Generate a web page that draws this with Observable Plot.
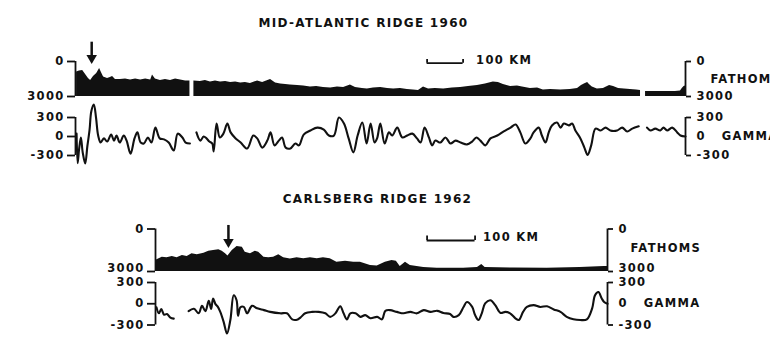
<!DOCTYPE html>
<html><head><meta charset="utf-8">
<script src="https://cdn.jsdelivr.net/npm/d3@7"></script>
<script src="https://cdn.jsdelivr.net/npm/@observablehq/plot@0.6"></script>
<style>
html,body{margin:0;padding:0;background:#fff;overflow:hidden;}
#chart{position:relative;width:770px;height:338px;}
</style></head><body><div id="chart"></div>
<script>
// ---------- DATA ----------
const atlanticTitle = "MID-ATLANTIC RIDGE 1960";
const carlsbergTitle = "CARLSBERG RIDGE 1962";
const depthUnit = "FATHOMS";
const magUnit = "GAMMA";
const scaleLabel = "100 KM";
const scaleKm = 100;
const fathomTicks = [0, 3000];
const gammaTicks = [300, 0, -300];

// distance along profile (km), depth (fathoms); null = gap in record
const atlanticDepth = [
[0,900],[8,815],[17,770],[25,1115],[33,1455],[39,1630],[47,1285],[56,1030],[64,600],[69,940],[75,1330],[86,1455],[94,1370],[100,1285],[108,1540],[122,1540],[136,1500],[150,1585],[164,1500],[178,1585],[192,1500],[206,1585],[211,1155],[219,1500],[233,1630],[247,1540],[261,1630],[275,1500],[289,1585],[303,1670],[315,1670],[321,null],
[326,1670],[344,1715],[358,1630],[372,1755],[386,1670],[400,1755],[414,1715],[428,1800],[442,1755],[456,1840],[469,1800],[483,1885],[503,1670],[517,1800],[539,1540],[553,1840],[567,1930],[581,1970],[594,2015],[614,2055],[631,2100],[650,2185],[667,2140],[686,2230],[706,2270],[725,2185],[742,2230],[761,2015],[775,2230],[794,2315],[808,2355],[825,2270],[845,2230],[864,2315],[881,2355],[900,2315],[919,2400],[936,2440],[950,2485],[964,2185],[978,2355],[997,2315],[1020,2355],[1044,2270],[1067,2230],[1089,2140],[1114,2055],[1136,1930],[1158,1755],[1172,1800],[1186,1970],[1206,2140],[1225,2100],[1239,2185],[1261,2315],[1281,2270],[1297,2440],[1317,2400],[1345,2440],[1372,2400],[1392,2315],[1403,2055],[1411,1930],[1420,1800],[1425,1970],[1433,2185],[1447,2355],[1464,2315],[1481,2055],[1492,2140],[1506,2315],[1522,2355],[1539,2400],[1556,2440],[1567,2485],[1574,null],
[1581,2570],[1608,2570],[1636,2570],[1664,2570],[1678,2530],[1683,2315],[1688,2140],[1692,2100]
];

// distance (km), total-field anomaly (gamma)
const atlanticMagnetic = [
[0,45],[3,-420],[7,-200],[12,-15],[17,-250],[24,-425],[30,-150],[36,100],[41,400],[48,505],[54,300],[60,15],[67,-95],[76,-30],[85,-80],[96,30],[104,-65],[111,15],[120,-95],[131,15],[139,-65],[150,-270],[161,-30],[169,65],[178,-95],[187,-110],[198,-15],[208,-95],[219,140],[231,-30],[243,-45],[256,-95],[270,-220],[281,45],[294,-15],[303,-95],[315,-110],[322,null],
[333,65],[344,-65],[353,0],[361,-30],[369,-80],[377,-110],[381,-235],[389,205],[398,-15],[408,45],[419,205],[428,65],[442,-30],[456,-95],[474,-190],[491,15],[502,-30],[516,-175],[530,-65],[539,65],[550,-140],[562,-65],[571,-15],[581,-175],[594,-190],[608,-110],[618,-140],[631,30],[650,95],[669,140],[687,110],[701,15],[715,15],[729,300],[743,205],[756,-30],[769,-250],[781,15],[794,220],[806,-110],[817,205],[828,-95],[835,-30],[844,205],[856,-110],[868,65],[877,15],[891,140],[905,-15],[919,15],[933,45],[946,-30],[956,-95],[967,140],[979,-15],[988,-140],[997,-65],[1011,-95],[1025,-15],[1039,-110],[1053,-65],[1067,-95],[1085,-125],[1099,-80],[1111,-15],[1122,-65],[1136,-140],[1150,-30],[1169,15],[1187,80],[1206,140],[1220,190],[1233,65],[1247,-110],[1261,-30],[1270,65],[1284,140],[1293,15],[1303,-95],[1312,65],[1321,175],[1335,220],[1345,140],[1354,205],[1368,175],[1377,205],[1386,95],[1400,-30],[1411,-175],[1420,-290],[1430,-140],[1442,125],[1456,95],[1470,140],[1483,95],[1502,95],[1516,140],[1530,80],[1544,125],[1562,160],[1572,null],
[1585,140],[1595,95],[1608,125],[1622,95],[1631,140],[1641,95],[1655,140],[1669,65],[1678,15],[1692,0]
];

const carlsbergDepth = [
[0,2190],[12,1990],[22,2035],[33,1940],[43,2035],[54,1870],[64,1940],[74,1750],[85,1820],[99,1710],[109,1570],[119,1520],[130,1470],[137,1570],[144,1750],[149,1905],[158,1520],[168,1235],[179,1285],[185,1640],[196,1750],[206,1570],[213,1640],[224,1990],[234,2035],[244,1990],[255,1820],[265,2035],[279,2120],[293,2035],[307,2105],[321,2035],[335,2105],[348,2035],[362,2105],[376,2345],[394,2275],[411,2345],[425,2345],[446,2575],[460,2610],[477,2345],[491,2225],[500,2275],[508,2650],[519,2345],[529,2575],[543,2650],[557,2720],[585,2770],[612,2770],[640,2770],[669,2720],[678,2505],[685,2720],[744,2755],[814,2770],[883,2720],[933,2650],[940,2650]
];

const carlsbergMagnetic = [
[0,-50],[5,-135],[10,-75],[16,-155],[22,-145],[29,-195],[36,-210],[50,null],
[67,-105],[78,-70],[88,-135],[95,-30],[102,-105],[109,40],[114,-75],[118,75],[123,-5],[128,-45],[133,-115],[140,-255],[147,-420],[154,-230],[161,120],[167,50],[170,-170],[175,-50],[182,-45],[189,-135],[199,-30],[210,-65],[224,-90],[237,-115],[258,-135],[272,-135],[283,-220],[293,-225],[300,-195],[310,-135],[324,-115],[338,-115],[352,-135],[362,-185],[373,-135],[383,-35],[390,-135],[397,-220],[404,-135],[415,-135],[425,-185],[435,-160],[446,-205],[460,-185],[470,-220],[477,-100],[487,-90],[501,-115],[515,-135],[529,-115],[543,-135],[557,-90],[571,-115],[585,-100],[598,-130],[612,-145],[619,-185],[630,-160],[640,-45],[647,25],[658,-45],[664,-160],[671,-230],[678,-135],[685,5],[696,50],[706,-20],[717,-130],[727,-115],[737,-135],[748,-205],[755,-230],[764,-115],[772,-45],[786,-20],[800,-45],[814,-35],[828,-80],[842,-115],[855,-185],[869,-220],[883,-230],[897,-220],[908,-65],[914,120],[921,165],[928,75],[933,25],[940,0]
];

// profile extents (km), arrow (ridge crest) and scale-bar start (km)
const atlanticKmDomain = [-3, 1692];
const carlsbergKmDomain = [-2, 940];
const atlanticArrowKm = 42;
const carlsbergArrowKm = 150;
const atlanticScaleStart = 974;
const carlsbergScaleStart = 564;

// ---------- RENDER ----------
const W = 770;
const chart = document.getElementById("chart");
const baseStyle = {
  background: "transparent", fontFamily: "'DejaVu Sans', sans-serif", fontWeight: "bold",
  fontSize: "11.5px", letterSpacing: "1.3px", overflow: "visible", color: "#111"
};
const fmt = d => d < 0 ? "-" + (-d) : String(d);
const blank = () => "";
const toRows = (arr, key) => arr.map(([km, v]) => ({km, [key]: v}));
const SW = 1.8;

function place(svg, top) {
  svg.style.position = "absolute";
  svg.style.left = "0px";
  svg.style.top = top + "px";
  chart.appendChild(svg);
}

function bathyPlot(o) {
  const rows = toRows(o.data, "f");
  const d0 = o.domain[0], d1 = o.domain[1];
  const [t0, t1] = fathomTicks;
  return Plot.plot({
    width: W, height: o.height, marginTop: o.mt, marginBottom: o.mb,
    marginLeft: o.ml, marginRight: o.mr,
    x: {domain: o.domain, axis: null},
    y: {domain: [0, 3000], reverse: true, label: null},
    style: baseStyle,
    marks: [
      Plot.areaY(rows, {x: "km", y1: 3000, y2: "f", fill: "#111", curve: "linear"}),
      Plot.ruleX([d0], {y1: 0, y2: 3000, strokeWidth: SW}),
      Plot.ruleX([d1], {y1: 0, y2: 3000, strokeWidth: SW}),
      // tick marks
      Plot.axisY({anchor: "left", ticks: fathomTicks, tickSize: 8, tickFormat: blank, strokeWidth: SW, label: null}),
      Plot.axisY({anchor: "right", ticks: fathomTicks, tickSize: 5, tickFormat: blank, strokeWidth: SW, label: null}),
      // tick labels
      Plot.axisY({anchor: "left", ticks: [t0], tickSize: 0, tickPadding: 11, tickFormat: fmt, label: null}),
      Plot.axisY({anchor: "left", ticks: [t1], tickSize: 0, tickPadding: 11, dy: o.lowLabelDy, tickFormat: fmt, label: null}),
      Plot.axisY({anchor: "right", ticks: [t0], tickSize: 0, tickPadding: 11, tickFormat: fmt, label: null}),
      Plot.axisY({anchor: "right", ticks: [t1], tickSize: 0, tickPadding: 11, dy: o.lowLabelDy, tickFormat: fmt, label: null}),
      Plot.text([depthUnit], {frameAnchor: "right", dx: o.unitDx, dy: o.unitDy, textAnchor: "start"}),
      Plot.text([o.title], {frameAnchor: "top-left", dx: o.titleDx, dy: o.titleDy, textAnchor: "middle", fontSize: 12}),
      // scale bar
      Plot.ruleY([o.barDepth], {x1: o.scaleStart, x2: o.scaleStart + scaleKm, strokeWidth: SW}),
      Plot.ruleX([o.scaleStart, o.scaleStart + scaleKm], {y1: o.barTickDepth, y2: o.barDepth, strokeWidth: SW}),
      Plot.text([scaleLabel], {x: o.scaleStart + scaleKm, y: o.labelDepth, dx: o.scaleDx, textAnchor: "start"}),
      // arrow
      Plot.ruleX([o.arrowKm], {y1: o.arrowTop, y2: o.arrowShaftEnd, strokeWidth: 2.5}),
      Plot.dot([o.arrowKm], {x: d => d, y: o.arrowHead, symbol: "triangle", r: 3.9, rotate: 180, fill: "#111", stroke: null})
    ]
  });
}

function magPlot(o) {
  const rows = toRows(o.data, "g");
  const d0 = o.domain[0], d1 = o.domain[1];
  return Plot.plot({
    width: W, height: o.height, marginTop: o.mt, marginBottom: o.mb,
    marginLeft: o.ml, marginRight: o.mr,
    x: {domain: o.domain, axis: null},
    y: {domain: [-300, 300], label: null},
    style: baseStyle,
    marks: [
      Plot.line(rows, {x: "km", y: "g", strokeWidth: 2.1, curve: "catmull-rom"}),
      Plot.ruleX([d0], {y1: -300, y2: 300, strokeWidth: SW}),
      Plot.ruleX([d1], {y1: -300, y2: 300, strokeWidth: SW}),
      Plot.axisY({anchor: "left", ticks: gammaTicks, tickSize: 8, tickPadding: 3, tickFormat: fmt, strokeWidth: SW, label: null}),
      Plot.axisY({anchor: "right", ticks: [300, -300], tickSize: 5, tickPadding: 6, tickFormat: fmt, strokeWidth: SW, label: null}),
      Plot.axisY({anchor: "right", ticks: [0], tickSize: 0, tickPadding: 11, tickFormat: d => fmt(d) + "\u00a0\u00a0\u00a0" + magUnit, label: null})
    ]
  });
}

place(bathyPlot({
  data: atlanticDepth, domain: atlanticKmDomain, height: 104, mt: 61, mb: 8, ml: 75, mr: 85,
  title: atlanticTitle, titleDx: 288, titleDy: -43, unitDx: 25, unitDy: 0, lowLabelDy: 0,
  scaleStart: atlanticScaleStart, barDepth: 145, barTickDepth: -170, labelDepth: -85, scaleDx: 13,
  arrowKm: atlanticArrowKm, arrowTop: -1655, arrowShaftEnd: -430, arrowHead: -300
}), 0);

place(magPlot({
  data: atlanticMagnetic, domain: atlanticKmDomain, height: 71, mt: 13, mb: 20, ml: 75, mr: 85
}), 104);

place(bathyPlot({
  data: carlsbergDepth, domain: carlsbergKmDomain, height: 101, mt: 53.5, mb: 5, ml: 155, mr: 163,
  title: carlsbergTitle, titleDx: 222, titleDy: -34.5, unitDx: 23, unitDy: -1.5, lowLabelDy: -3,
  scaleStart: carlsbergScaleStart, barDepth: 812, barTickDepth: 500, labelDepth: 580, scaleDx: 8,
  arrowKm: carlsbergArrowKm, arrowTop: -250, arrowShaftEnd: 830, arrowHead: 918
}), 175);

place(magPlot({
  data: carlsbergMagnetic, domain: carlsbergKmDomain, height: 62, mt: 6, mb: 13.5, ml: 155, mr: 163
}), 276);
</script>
</body></html>
